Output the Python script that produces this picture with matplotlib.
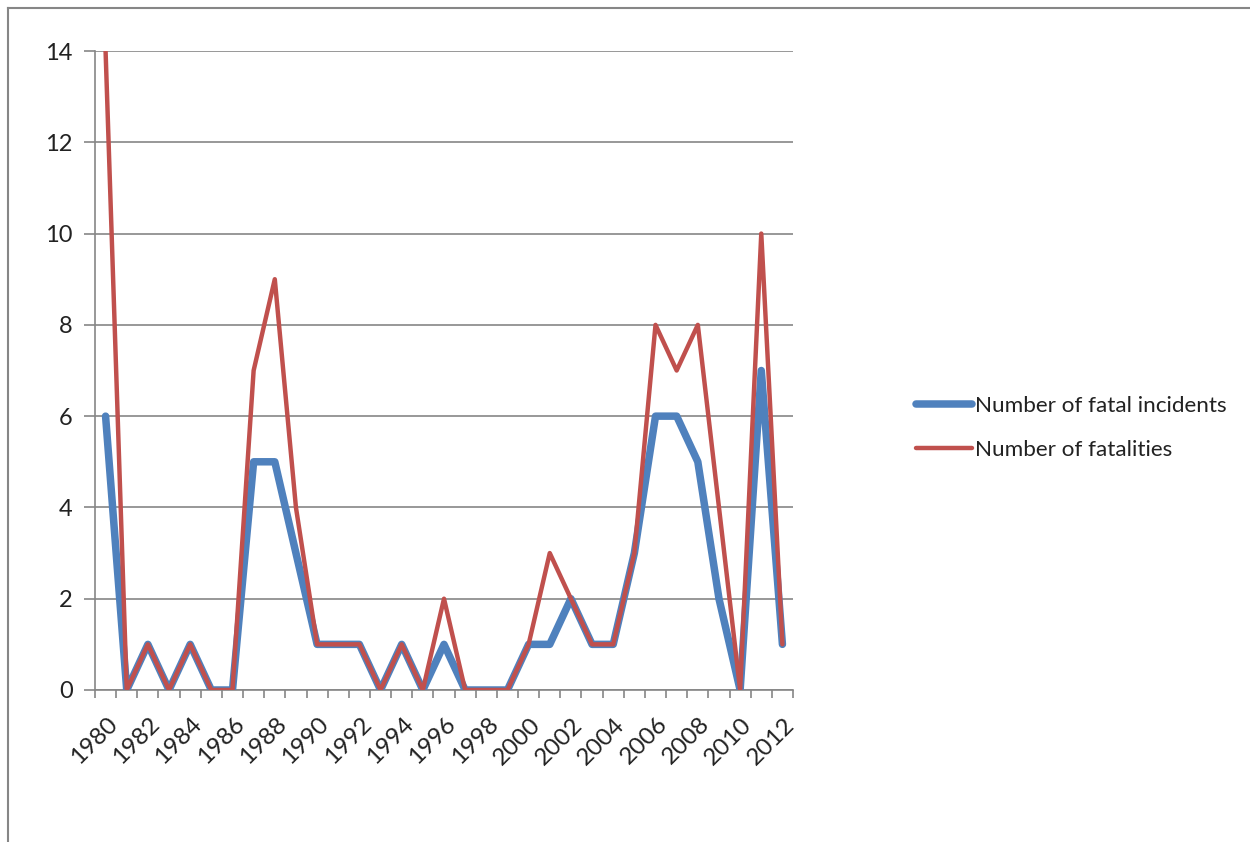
import matplotlib
matplotlib.use("Agg")
import matplotlib.pyplot as plt
from matplotlib.lines import Line2D
from matplotlib.transforms import ScaledTranslation

years = list(range(1980, 2013))
fatal_incidents = [6, 0, 1, 0, 1, 0, 0, 5, 5, 3, 1, 1, 1, 0, 1, 0, 1, 0, 0, 0,
                   1, 1, 2, 1, 1, 3, 6, 6, 5, 2, 0, 7, 1]
fatalities = [14, 0, 1, 0, 1, 0, 0, 7, 9, 4, 1, 1, 1, 0, 1, 0, 2, 0, 0, 0,
              1, 3, 2, 1, 1, 3, 8, 7, 8, 4, 0, 10, 1]
y_ticks = [0, 2, 4, 6, 8, 10, 12, 14]

BLUE = "#4F81BD"
RED = "#C0504D"
GRID = "#868686"
TEXT = "#222222"
FONT = "Lato"

W, H = 1250, 842
fig = plt.figure(figsize=(W / 100, H / 100), dpi=100)
fig.patch.set_facecolor("white")

# chart frame (top and left edges visible)
fig.add_artist(Line2D([7.5 / W, 7.5 / W], [0, 1 - 8 / H], transform=fig.transFigure,
                      color=GRID, lw=1.5))
fig.add_artist(Line2D([7.5 / W, 1], [1 - 8 / H, 1 - 8 / H], transform=fig.transFigure,
                      color=GRID, lw=1.5))

ax = fig.add_axes([95 / W, 1 - 690 / H, (793 - 95) / W, (690 - 51) / H])
x = list(range(len(years)))

ax.plot(x, fatal_incidents, color=BLUE, lw=5.4, solid_joinstyle="round",
        solid_capstyle="round", label="Number of fatal incidents", zorder=3)
ax.plot(x, fatalities, color=RED, lw=3.2, solid_joinstyle="round",
        solid_capstyle="round", label="Number of fatalities", zorder=4)

ax.set_xlim(-0.5, len(years) - 0.5)
ax.set_ylim(0, 14)
ax.set_yticks(y_ticks)
ax.set_yticklabels([str(v) for v in y_ticks], fontsize=17, family=FONT, color=TEXT)
ax.yaxis.grid(True, color=GRID, lw=1.2)
ax.set_axisbelow(True)

# category labels every other year, boundary tick marks
ax.set_xticks(x[::2])
ax.set_xticklabels([str(y) for y in years[::2]], rotation=45, ha="right",
                   rotation_mode="anchor", fontsize=17.5, family=FONT, color=TEXT)
ax.tick_params(axis="x", which="major", length=0, pad=17)
shift = ScaledTranslation(1 / 100, 0, fig.dpi_scale_trans)
for lbl in ax.get_xticklabels():
    lbl.set_transform(lbl.get_transform() + shift)
ax.set_xticks([i - 0.5 for i in range(len(years) + 1)], minor=True)
ax.tick_params(axis="x", which="minor", length=6, width=1.2, color=GRID, direction="out")
ax.tick_params(axis="y", length=8, width=1.2, color=GRID, direction="out", pad=8)

for side in ("top", "right"):
    ax.spines[side].set_visible(False)
for side in ("left", "bottom"):
    ax.spines[side].set_color(GRID)
    ax.spines[side].set_linewidth(1.2)

leg = fig.legend(loc="center left", bbox_to_anchor=(900 / W, 1 - 428 / H),
                 frameon=False, prop={"family": FONT, "size": 16.2},
                 handlelength=2.5, handletextpad=0.15, labelspacing=1.05,
                 borderpad=0.2)
for t in leg.get_texts():
    t.set_color(TEXT)

fig.savefig("out.png", dpi=100, facecolor="white")
